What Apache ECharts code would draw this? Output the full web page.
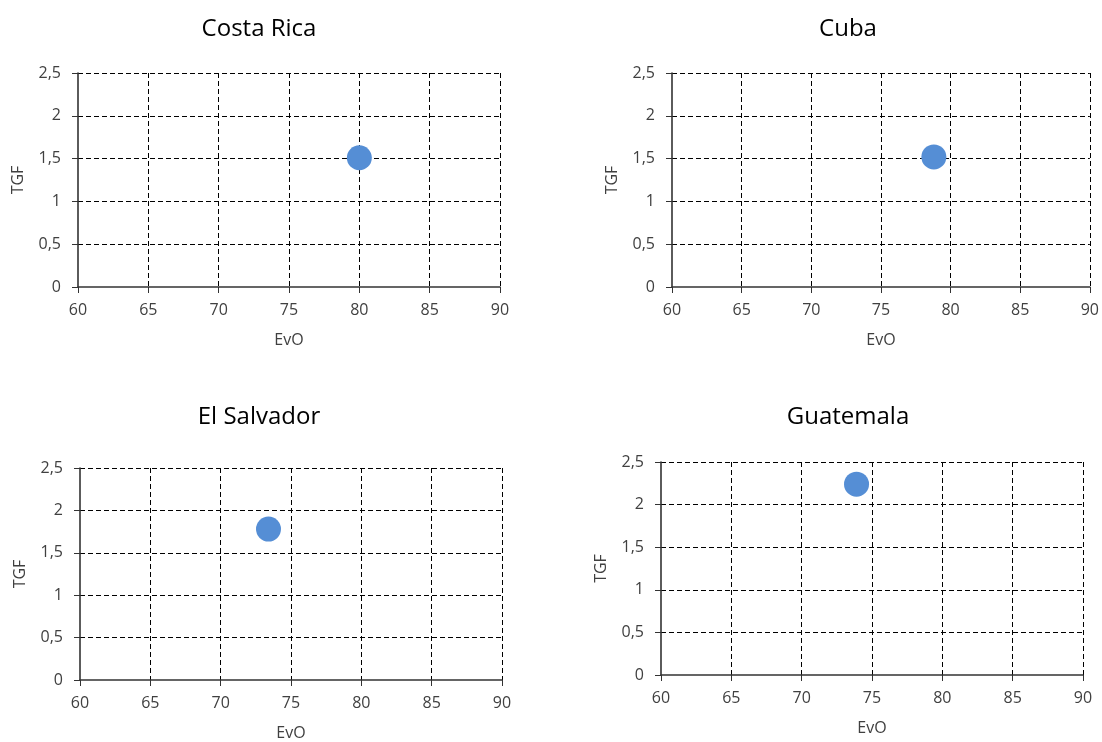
<!DOCTYPE html>
<html>
<head>
<meta charset="utf-8">
<script src="https://cdn.jsdelivr.net/npm/echarts@6/dist/echarts.min.js"></script>
<style>
  html, body { margin: 0; padding: 0; background: #ffffff; }
  #chart { width: 1102px; height: 742px; }
</style>
</head>
<body>
<div id="chart"></div>
<script>
// One small scatter panel per country: life expectancy (EvO) vs. fertility rate (TGF)
const countries = ['Costa Rica', 'Cuba', 'El Salvador', 'Guatemala'];
const evoValues = [80.0, 78.8, 73.4, 73.9];
const tgfValues = [1.51, 1.52, 1.78, 2.24];

const xAxisName = 'EvO';
const yAxisName = 'TGF';
const xRange = { min: 60, max: 90, interval: 5 };
const yRange = { min: 0, max: 2.5, interval: 0.5 };

// panel layout: plot area rectangles and title anchor points
const panels = [
  { left: 78, top: 73, width: 422, height: 214, titleX: 254, titleY: 12 },
  { left: 672, top: 73, width: 422, height: 214, titleX: 843, titleY: 12 },
  { left: 80, top: 468, width: 422, height: 213, titleX: 254, titleY: 400 },
  { left: 661, top: 462, width: 422, height: 213, titleX: 843, titleY: 400 }
];

const FONT = "'Open Sans', 'Noto Sans', sans-serif";
const TEXT = '#404040';
const dash = [5, 3];

const fmt = v => String(v).replace('.', ',');

const option = {
  animation: false,
  backgroundColor: '#ffffff',
  textStyle: { fontFamily: FONT },
  title: countries.map((c, i) => ({
    text: c,
    left: panels[i].titleX,
    top: panels[i].titleY,
    textAlign: 'center',
    textStyle: { fontFamily: FONT, fontSize: 24, fontWeight: 'normal', color: '#000000' }
  })),
  grid: panels.map(p => ({ left: p.left, top: p.top, width: p.width, height: p.height, containLabel: false })),
  xAxis: countries.map((c, i) => ({
    type: 'value',
    gridIndex: i,
    min: xRange.min, max: xRange.max, interval: xRange.interval,
    name: xAxisName,
    nameLocation: 'middle',
    nameGap: 45,
    nameTextStyle: { fontFamily: FONT, fontSize: 16, color: TEXT },
    axisLine: { show: true, onZero: false, lineStyle: { color: '#333333', width: 1.6 } },
    axisTick: { show: true, length: 6, lineStyle: { color: '#333333', width: 1 } },
    axisLabel: { fontFamily: FONT, fontSize: 16, color: TEXT, margin: 15, formatter: fmt },
    splitLine: { show: true, showMinLine: false, lineStyle: { color: '#000000', width: 1, type: dash } }
  })),
  yAxis: countries.map((c, i) => ({
    type: 'value',
    gridIndex: i,
    min: yRange.min, max: yRange.max, interval: yRange.interval,
    name: yAxisName,
    nameLocation: 'middle',
    nameGap: 52,
    nameTextStyle: { fontFamily: FONT, fontSize: 16, color: TEXT },
    axisLine: { show: true, onZero: false, lineStyle: { color: '#333333', width: 1.6 } },
    axisTick: { show: true, length: 6, lineStyle: { color: '#333333', width: 1 } },
    axisLabel: { fontFamily: FONT, fontSize: 16, color: TEXT, margin: 17, formatter: fmt },
    splitLine: { show: true, showMinLine: false, lineStyle: { color: '#000000', width: 1, type: dash } }
  })),
  series: countries.map((c, i) => ({
    name: c,
    type: 'scatter',
    xAxisIndex: i,
    yAxisIndex: i,
    symbol: 'circle',
    symbolSize: 25,
    itemStyle: { color: '#558ed5', opacity: 1 },
    data: [[evoValues[i], tgfValues[i]]]
  }))
};

const chart = echarts.init(document.getElementById('chart'), null, { renderer: 'canvas' });
chart.setOption(option);
</script>
</body>
</html>
